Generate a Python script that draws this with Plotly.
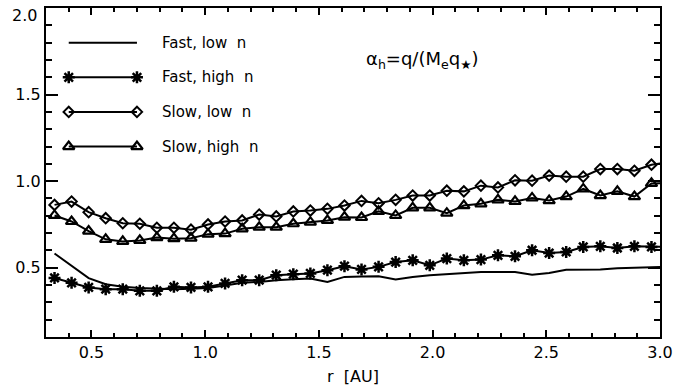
import plotly.graph_objects as go

# Radial grid [AU] shared by all runs
r_au = [0.3375, 0.4125, 0.4875, 0.5625, 0.6375, 0.7125, 0.7875, 0.8625, 0.9375,
        1.0125, 1.0875, 1.1625, 1.2375, 1.3125, 1.3875, 1.4625, 1.5375, 1.6125,
        1.6875, 1.7625, 1.8375, 1.9125, 1.9875, 2.0625, 2.1375, 2.2125, 2.2875,
        2.3625, 2.4375, 2.5125, 2.5875, 2.6625, 2.7375, 2.8125, 2.8875, 2.9625,
        3.0375]

# alpha_h for each run
fast_low = [0.582, 0.51, 0.44, 0.405, 0.39, 0.383, 0.378, 0.376, 0.378, 0.383,
            0.398, 0.413, 0.418, 0.428, 0.433, 0.438, 0.418, 0.447, 0.449, 0.451,
            0.432, 0.447, 0.457, 0.463, 0.467, 0.476, 0.476, 0.476, 0.46, 0.47,
            0.488, 0.49, 0.49, 0.497, 0.499, 0.503, 0.506]
fast_high = [0.441, 0.413, 0.386, 0.376, 0.376, 0.367, 0.367, 0.39, 0.386, 0.39,
             0.409, 0.428, 0.428, 0.457, 0.463, 0.467, 0.486, 0.509, 0.49, 0.505,
             0.533, 0.543, 0.514, 0.553, 0.543, 0.547, 0.572, 0.566, 0.601, 0.585,
             0.591, 0.62, 0.624, 0.614, 0.624, 0.62, 0.62]
slow_low = [0.863, 0.882, 0.821, 0.786, 0.757, 0.754, 0.731, 0.731, 0.72, 0.75,
            0.767, 0.773, 0.807, 0.796, 0.825, 0.83, 0.84, 0.859, 0.886, 0.872,
            0.892, 0.917, 0.917, 0.945, 0.941, 0.974, 0.964, 1.005, 1.003, 1.032,
            1.026, 1.026, 1.07, 1.07, 1.06, 1.095, 1.11]
slow_high = [0.802, 0.767, 0.712, 0.664, 0.652, 0.658, 0.674, 0.668, 0.671, 0.694,
             0.697, 0.725, 0.734, 0.734, 0.754, 0.763, 0.773, 0.792, 0.79, 0.826,
             0.802, 0.846, 0.846, 0.815, 0.859, 0.869, 0.892, 0.883, 0.903, 0.888,
             0.911, 0.955, 0.917, 0.941, 0.911, 0.987, 0.99]

series_names = ["Fast, low  n", "Fast, high  n", "Slow, low  n", "Slow, high  n"]
series_values = [fast_low, fast_high, slow_low, slow_high]
series_symbols = [None, "asterisk-open", "diamond-open", "triangle-up-open"]
series_sizes = [0, 10, 8, 10]
series_mwidth = [0, 2.5, 2, 2.2]

# in-plot key: rows in data units
key_x = [0.4, 0.7]
key_rows = [1.8, 1.6, 1.4, 1.2]
key_text_x = 0.8

FONT = "DejaVu Sans"
INK = "black"

fig = go.Figure()

for name, vals, sym, size, mw, row in zip(series_names, series_values,
                                          series_symbols, series_sizes,
                                          series_mwidth, key_rows):
    mode = "lines" if sym is None else "lines+markers"
    marker = None if sym is None else dict(symbol=sym, size=size, color=INK,
                                           line=dict(color=INK, width=mw))
    fig.add_trace(go.Scatter(x=r_au, y=vals, mode=mode, name=name,
                             line=dict(color=INK, width=2), marker=marker,
                             showlegend=False, hoverinfo="skip"))
    # key sample: line with a symbol at each end
    fig.add_trace(go.Scatter(x=key_x, y=[row, row], mode=mode,
                             line=dict(color=INK, width=2), marker=marker,
                             showlegend=False, hoverinfo="skip"))
    fig.add_annotation(x=key_text_x, y=row, text=name, showarrow=False,
                       xanchor="left", yanchor="middle",
                       font=dict(family=FONT, size=15, color=INK))

fig.add_annotation(x=1.70, y=1.70, xanchor="left", yanchor="middle",
                   text="α<sub>h</sub>=q/(M<sub>e</sub>q<sub>★</sub>)",
                   showarrow=False, font=dict(family=FONT, size=18, color=INK))

# top label of the y axis sits slightly below its tick
fig.add_annotation(x=0, xref="paper", y=2.0, xanchor="right", yanchor="middle",
                   xshift=-7, yshift=-7, text="2.0", showarrow=False,
                   font=dict(family=FONT, size=16, color=INK))

axis_common = dict(showgrid=False, zeroline=False, showline=True, linecolor=INK,
                   linewidth=2, mirror="ticks", ticks="inside", tickcolor=INK,
                   tickwidth=2, tickfont=dict(family=FONT, size=16, color=INK))

fig.update_xaxes(range=[0.3, 3.0], tickmode="linear", tick0=0.5, dtick=0.5,
                 tickformat=".1f", ticklen=7,
                 minor=dict(ticks="inside", tick0=0, dtick=0.1, ticklen=4,
                            tickcolor=INK, tickwidth=2),
                 title=dict(text="r  [AU]", standoff=10,
                            font=dict(family=FONT, size=16, color=INK)),
                 **axis_common)
fig.update_yaxes(range=[0.1, 2.0], tickmode="array", tickvals=[0.5, 1.0, 1.5],
                 ticktext=["0.5", "1.0", "1.5"], ticklen=12,
                 minor=dict(ticks="inside", tickmode="linear", tick0=0, dtick=0.1,
                            ticklen=6, tickcolor=INK, tickwidth=2),
                 **axis_common)

fig.update_layout(width=699, height=392, margin=dict(l=46, r=39, t=6, b=55),
                  paper_bgcolor="white", plot_bgcolor="white",
                  font=dict(family=FONT, color=INK), showlegend=False)

fig.write_html("out.html", config={"displayModeBar": False})
